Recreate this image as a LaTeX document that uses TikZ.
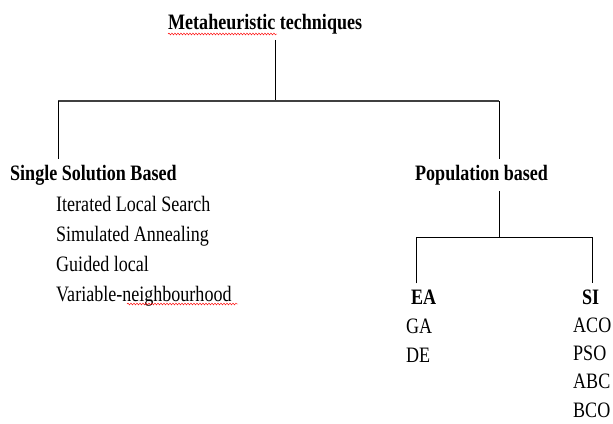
\documentclass[tikz,border=0pt]{standalone}
\usepackage{fontspec}
\setmainfont{Liberation Serif}[FakeStretch=0.82]
\usetikzlibrary{positioning, decorations.pathmorphing}

\begin{document}
\begin{tikzpicture}[x=1pt, y=-1pt,
    lbl/.style={anchor=base west, inner sep=0pt,
        font=\fontsize{22}{26}\selectfont},
    head/.style={lbl, inner ysep=6pt, font=\fontsize{22}{26}\selectfont\bfseries},
    bus/.style={draw=black!75, line width=1.5pt},
    branch/.style={draw=black, line width=0.8pt},
    typo/.style={red, line width=0.45pt, decorate,
        decoration={snake, amplitude=0.9pt, segment length=3pt}}]

    \useasboundingbox (0,0) rectangle (613,423);

    % Root
    \node[head] (root) at (168,29) {Metaheuristic techniques};

    % Junction points
    \coordinate (top) at (275,101);
    \coordinate (lft) at (58,101);
    \coordinate (rgt) at (499,101);
    \coordinate (sub) at (499,237);
    \coordinate (eaj) at (416,237);
    \coordinate (sij) at (592,237);

    % Single solution branch
    \node[head] (single) at (10,180) {Single Solution Based};
    \foreach \name [count=\i] in {Iterated Local Search, Simulated Annealing,
        Guided local, Variable-neighbourhood}{
        \node[lbl] (ss\i) at (56, 181+30*\i) {\name};
    }

    % Population branch
    \node[head] (pop) at (415,180) {Population based};
    \node[head] (ea) at (411,304) {EA};
    \node[head] (si) at (582,304) {SI};
    \foreach \name [count=\i] in {GA, DE}{
        \node[lbl] (ea\i) at (406, 304+29*\i) {\name};
    }
    \foreach \name [count=\i] in {ACO, PSO, ABC, BCO}{
        \node[lbl] (si\i) at (573, 304+28.25*\i) {\name};
    }

    % Tree lines
    \draw[branch] (root.south -| top) -- (top);
    \draw[bus] (lft) -- (rgt);
    \draw[branch] (lft) -- (single.north -| lft);
    \draw[branch] (rgt) -- (pop.north -| rgt);
    \draw[branch] (pop.south -| sub) -- (sub);
    \draw[branch] (ea.north -| eaj) -- (eaj) -- (sij) -- (si.north -| sij);

    % Spell-check marks
    \draw[typo] ([yshift=-5pt]root.base west) -- ++(109,0);
    \draw[typo] ([xshift=71pt, yshift=-3pt]ss4.base west) -- ++(111,0);

\end{tikzpicture}
\end{document}
